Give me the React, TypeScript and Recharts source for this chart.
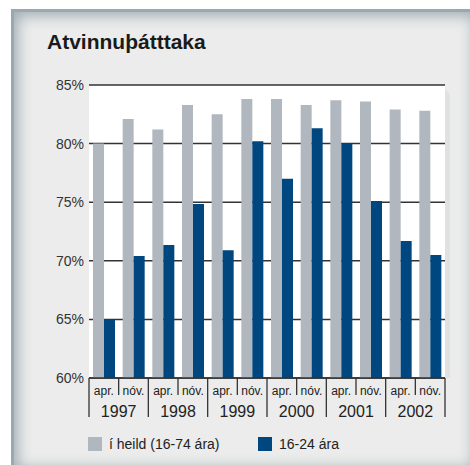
import { Bar, BarChart, CartesianGrid, XAxis, YAxis } from 'recharts'

const months = ['apr.', 'nóv.', 'apr.', 'nóv.', 'apr.', 'nóv.', 'apr.', 'nóv.', 'apr.', 'nóv.', 'apr.', 'nóv.']
const years = ['1997', '1998', '1999', '2000', '2001', '2002']
const total = [80.0, 82.1, 81.2, 83.3, 82.5, 83.8, 83.8, 83.3, 83.7, 83.6, 82.9, 82.8]
const youth = [65.0, 70.4, 71.35, 74.85, 70.9, 80.2, 77.0, 81.3, 80.0, 75.1, 71.7, 70.5]
const yTicks = [60, 65, 70, 75, 80, 85]

const data = months.map((m, i) => ({ key: i, month: m, total: total[i], youth: youth[i] }))

const W = 470
const H = 465
const M = { top: 85, right: 25, bottom: 0, left: 0 }
const X_H = 87
const Y_W = 89
const band = (W - Y_W - M.right) / months.length
const font = '"Liberation Sans", Arial, sans-serif'
const narrow = '"Liberation Sans Narrow", "Liberation Sans", sans-serif'
const GREY = '#b0b7be'
const BLUE = '#00467f'

function MonthTick({ x, y, payload }: any) {
    const i = payload.index
    const right = x + band / 2
    const long = i % 2 === 1
    return (
        <g>
            {i === 0 && <line x1={x - band / 2} x2={x - band / 2} y1={y} y2={y + 39} stroke="#333" strokeWidth={1.3} />}
            <line x1={right} x2={right} y1={y} y2={y + (long ? 39 : 17)} stroke="#333" strokeWidth={1.3} />
            <text x={x} y={y + 17} textAnchor="middle" fontSize={12} fill="#222" fontFamily={narrow}>{months[i]}</text>
            {long && (
                <text x={x - band / 2} y={y + 39} textAnchor="middle" fontSize={16} fill="#222" fontFamily={font}>
                    {years[(i - 1) / 2]}
                </text>
            )}
        </g>
    )
}

function LegendBox() {
    const item = (color: string, label: string, w: number) => (
        <div style={{ display: 'flex', alignItems: 'center', width: w }}>
            <div style={{ width: 14, height: 14, background: color, marginRight: 7 }} />
            <span style={{ fontSize: 14, color: '#222', fontFamily: font }}>{label}</span>
        </div>
    )
    return (
        <div style={{ position: 'absolute', left: 88, top: 436, display: 'flex' }}>
            {item(GREY, 'í heild (16-74 ára)', 170)}
            {item(BLUE, '16-24 ára', 120)}
        </div>
    )
}

export default function App() {
    return (
        <div style={{ position: 'absolute', left: 0, top: 0, width: W, height: H, background: '#fff', overflow: 'hidden' }}>
            <div style={{
                position: 'absolute', left: 11, top: 9, width: W - 11, height: H - 9, background: '#ebeceb',
                boxShadow: 'inset 3px 3px 0 0 #9aa8b0, inset 5px 5px 14px 2px #a2aeb5'
            }} />
            <div style={{
                position: 'absolute', left: Y_W, top: M.top + 4, width: W - Y_W - M.right + 5, height: H - M.top - X_H - 4,
                background: '#dfe1e2', borderRadius: '0 8px 0 0'
            }} />
            <div style={{
                position: 'absolute', left: 47, top: 30, fontFamily: font, fontWeight: 'bold', fontSize: 21, color: '#1a1a1a'
            }}>Atvinnuþátttaka</div>
            <div style={{ position: 'absolute', left: 0, top: 0 }}>
                <BarChart width={W} height={H} data={data} margin={M} barGap={0} barSize={11}>
                    <CartesianGrid vertical={false} fill="#fff" stroke="#333" strokeWidth={1.5} strokeOpacity={1} />
                    <XAxis
                        dataKey="key"
                        interval={0}
                        tickLine={false}
                        tickSize={0}
                        tickMargin={0}
                        axisLine={{ stroke: '#333', strokeWidth: 1.5 }}
                        tick={<MonthTick />}
                        height={X_H}
                    />
                    <YAxis
                        width={Y_W}
                        domain={[60, 85]}
                        ticks={yTicks}
                        tickFormatter={(v) => `${v}%`}
                        axisLine={false}
                        tickLine={false}
                        tickSize={5}
                        tickMargin={0}
                        allowDataOverflow
                        tick={{ fontSize: 14, fill: '#333', fontFamily: font }}
                    />
                    <Bar dataKey="total" fill={GREY} isAnimationActive={false} />
                    <Bar dataKey="youth" fill={BLUE} isAnimationActive={false} />
                </BarChart>
            </div>
            <LegendBox />
        </div>
    )
}
